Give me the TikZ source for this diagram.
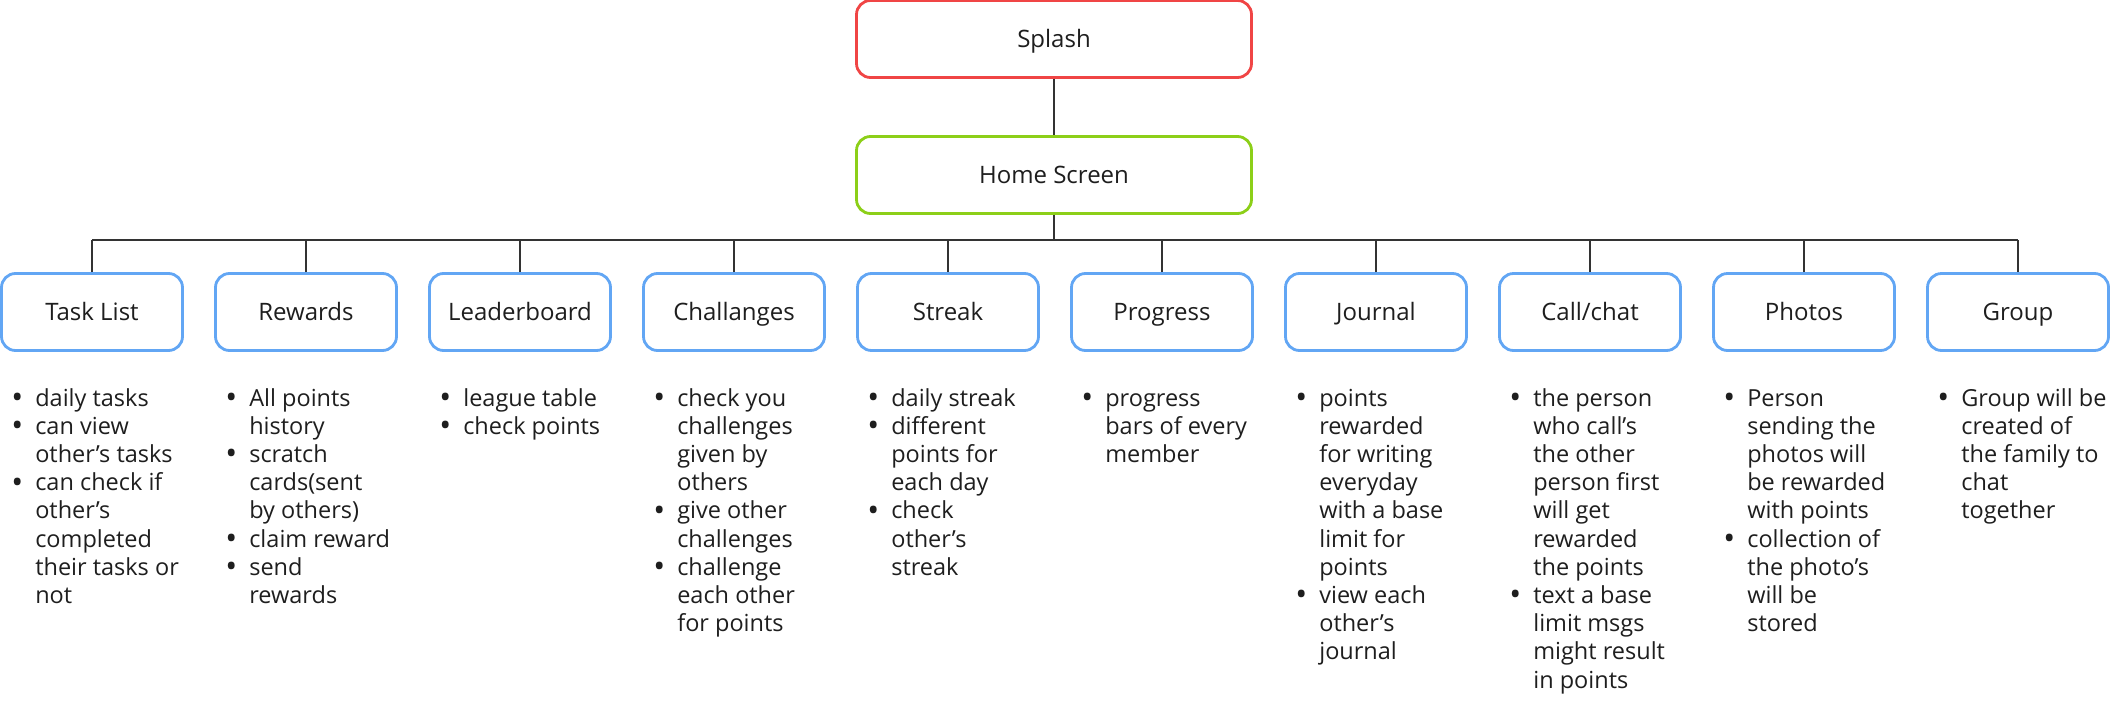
\documentclass[tikz,border=0pt]{standalone}
\usepackage{fontspec}
\setmainfont{Open Sans}
\usetikzlibrary{calc}
\definecolor{redb}{HTML}{F04545}
\definecolor{greenb}{HTML}{8CCF18}
\definecolor{blueb}{HTML}{62A6F4}
\definecolor{txt}{HTML}{1E1E1E}
\definecolor{conn}{HTML}{333333}
\newcommand\bul{\llap{\makebox[36pt][c]{\raisebox{-2.4pt}{\scalebox{1.35}{•}}}}}
\newcommand\blk[1]{\begin{tabular}[t]{@{}l@{}}#1\end{tabular}}
\begin{document}
\begin{tikzpicture}[x=1pt,y=-1pt,
  box/.style={draw, line width=2.8pt, rounded corners=14pt, fill=white,
    minimum height=77pt, inner sep=0pt, text=txt,
    text height=17.5pt, text depth=0pt,
    font=\fontsize{24}{28}\selectfont},
  topbox/.style={box, minimum width=395pt},
  childbox/.style={box, draw=blueb, minimum width=181pt},
  blist/.style={anchor=base west, inner sep=0pt, text=txt,
    font=\fontsize{23.5}{28.2}\selectfont},
  link/.style={draw=conn, line width=2pt}]
\useasboundingbox (0,0) rectangle (2110,723);

\node[topbox, draw=redb] (splash) at (1054,39) {Splash};
\node[topbox, draw=greenb] (home) at (1054,175) {Home Screen};
\coordinate (bus) at (1054,240);

\node[childbox] (c1) at (92,312) {Task List};
\node[childbox] (c2) at (306,312) {Rewards};
\node[childbox] (c3) at (520,312) {Leaderboard};
\node[childbox] (c4) at (734,312) {Challanges};
\node[childbox] (c5) at (948,312) {Streak};
\node[childbox] (c6) at (1162,312) {Progress};
\node[childbox] (c7) at (1376,312) {Journal};
\node[childbox] (c8) at (1590,312) {Call/chat};
\node[childbox] (c9) at (1804,312) {Photos};
\node[childbox] (c10) at (2018,312) {Group};

\draw[link] (splash.south) -- (home.north);
\draw[link] (home.south) -- (bus);
\draw[link] (c1.north |- bus) -- (c10.north |- bus);
\foreach \i in {1,...,10} {\draw[link] (c\i.north) -- (c\i.north |- bus);}

\node[blist] (l1) at ($(c1.west)+(35,94)$) {\blk{\bul daily tasks\\ \bul can view\\ other’s tasks\\ \bul can check if\\ other’s\\ completed\\ their tasks or\\ not}};
\node[blist] (l2) at ($(c2.west)+(35,94)$) {\blk{\bul All points\\ history\\ \bul scratch\\ cards(sent\\ by others)\\ \bul claim reward\\ \bul send\\ rewards}};
\node[blist] (l3) at ($(c3.west)+(35,94)$) {\blk{\bul league table\\ \bul check points}};
\node[blist] (l4) at ($(c4.west)+(35,94)$) {\blk{\bul check you\\ challenges\\ given by\\ others\\ \bul give other\\ challenges\\ \bul challenge\\ each other\\ for points}};
\node[blist] (l5) at ($(c5.west)+(35,94)$) {\blk{\bul daily streak\\ \bul different\\ points for\\ each day\\ \bul check\\ other’s\\ streak}};
\node[blist] (l6) at ($(c6.west)+(35,94)$) {\blk{\bul progress\\ bars of every\\ member}};
\node[blist] (l7) at ($(c7.west)+(35,94)$) {\blk{\bul points\\ rewarded\\ for writing\\ everyday\\ with a base\\ limit for\\ points\\ \bul view each\\ other’s\\ journal}};
\node[blist] (l8) at ($(c8.west)+(35,94)$) {\blk{\bul the person\\ who call’s\\ the other\\ person first\\ will get\\ rewarded\\ the points\\ \bul text a base\\ limit msgs\\ might result\\ in points}};
\node[blist] (l9) at ($(c9.west)+(35,94)$) {\blk{\bul Person\\ sending the\\ photos will\\ be rewarded\\ with points\\ \bul collection of\\ the photo’s\\ will be\\ stored}};
\node[blist] (l10) at ($(c10.west)+(35,94)$) {\blk{\bul Group will be\\ created of\\ the family to\\ chat\\ together}};
\end{tikzpicture}
\end{document}
